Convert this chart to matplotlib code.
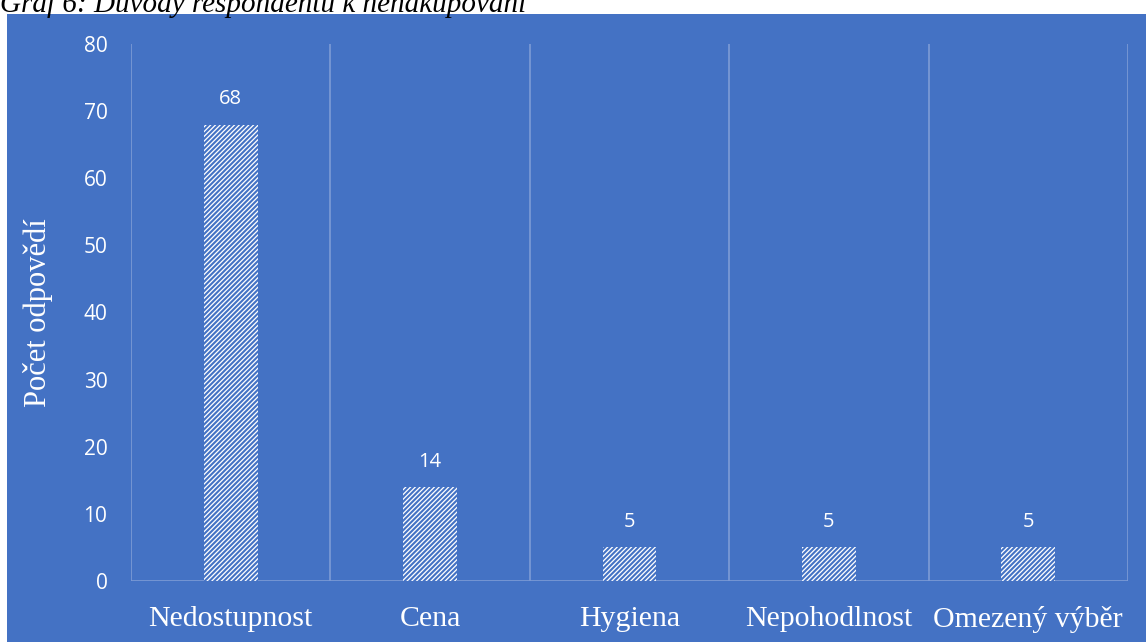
import matplotlib.pyplot as plt
from matplotlib.patches import Rectangle

categories = ["Nedostupnost", "Cena", "Hygiena", "Nepohodlnost", "Omezený výběr"]
values = [68, 14, 5, 5, 5]
yticks = [0, 10, 20, 30, 40, 50, 60, 70, 80]

BLUE = "#4472C4"
GRID = "#7D9BD6"

plt.rcParams['hatch.linewidth'] = 1.5

fig = plt.figure(figsize=(11.46, 6.42), dpi=100)
fig.patch.set_facecolor("white")
# blue chart panel
fig.add_artist(Rectangle((7 / 1146, 0), 1 - 7 / 1146, 1 - 14 / 642,
                         transform=fig.transFigure, facecolor=BLUE,
                         edgecolor="none", zorder=0))
fig.text(0.0, 1 - 12 / 642, "Graf 6: Důvody respondentů k nenakupování",
         family="Liberation Serif", style="italic", fontsize=21,
         color="black", ha="left", va="baseline")

ax = fig.add_axes([131 / 1146, 1 - 581 / 642, (1128 - 131) / 1146, (581 - 44) / 642])
ax.set_facecolor("none")
x = range(len(categories))
bars = ax.bar(x, values, width=0.27, facecolor="white", edgecolor=BLUE,
              hatch="///////", linewidth=0, zorder=3)
for xi, v in zip(x, values):
    ax.text(xi, v + 2.3, str(v), ha="center", va="bottom", color="white",
            family="Open Sans", fontsize=14.5)

ax.set_xlim(-0.5, len(categories) - 0.5)
ax.set_ylim(0, 80)
ax.set_yticks(yticks)
ax.set_xticks(list(x))
ax.set_xticklabels(categories, family="Liberation Serif", fontsize=21.5, color="white")
ax.set_yticklabels([str(t) for t in yticks], family="Open Sans", fontsize=15, color="white")
ax.tick_params(axis="both", length=0)
ax.tick_params(axis="x", pad=18)
ax.tick_params(axis="y", pad=17)

for b in [i - 0.5 for i in range(len(categories) + 1)]:
    ax.axvline(b, color=GRID, linewidth=1.2, zorder=1)
ax.axhline(0, color=GRID, linewidth=1.2, zorder=1)
for s in ax.spines.values():
    s.set_visible(False)

ax.set_ylabel("Počet odpovědí", family="Liberation Serif", fontsize=22, color="white",
              va="center")
ax.yaxis.set_label_coords(-93 / 997, 0.5)

fig.savefig("out.png", dpi=100)
